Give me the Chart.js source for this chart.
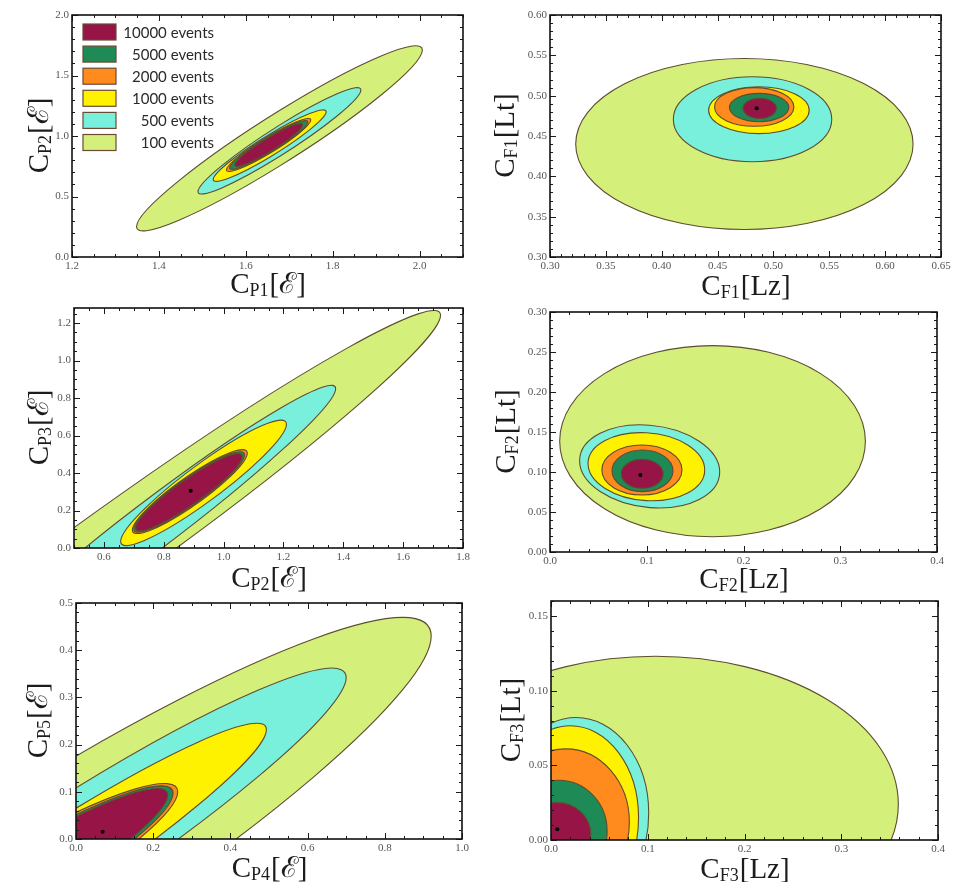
<!DOCTYPE html>
<html>
<head>
<meta charset="utf-8">
<script src="https://cdn.jsdelivr.net/npm/chart.js@4.4.1/dist/chart.umd.min.js"></script>
<style>
  html, body { margin: 0; padding: 0; background: #fff; }
  #wrap { position: relative; width: 958px; height: 882px; overflow: hidden; }
  #wrap canvas { position: absolute; }
</style>
</head>
<body>
<div id="wrap">
  <canvas id="c1" width="479" height="308" style="left:0;top:0"></canvas>
  <canvas id="c2" width="479" height="308" style="left:479px;top:0"></canvas>
  <canvas id="c3" width="479" height="300" style="left:0;top:298px"></canvas>
  <canvas id="c4" width="479" height="300" style="left:479px;top:298px"></canvas>
  <canvas id="c5" width="479" height="294" style="left:0;top:588px"></canvas>
  <canvas id="c6" width="479" height="294" style="left:479px;top:588px"></canvas>
</div>
<script>
// contour levels, drawn outer -> inner
const levelLabels = ['100 events', '500 events', '1000 events', '2000 events', '5000 events', '10000 events'];
const levelColors = ['#d4f07a', '#78f0dc', '#fff200', '#ff8a1e', '#1e8a55', '#961446'];

// one ring = [centre x, centre y, x to rightmost point, y to rightmost point, half height at centre]
const p1Rings = [
    [1.6775, 0.981, 0.329, 0.730, 0.23],
    [1.6775, 0.960, 0.1875, 0.420, 0.13],
    [1.655, 0.920, 0.130, 0.280, 0.095],
    [1.6527, 0.926, 0.097, 0.206, 0.075],
    [1.6527, 0.926, 0.090, 0.190, 0.068],
    [1.6527, 0.926, 0.078, 0.165, 0.062]
];
const p2Rings = [
    [0.474, 0.440, 0.151, 0, 0.106],
    [0.4813, 0.4708, 0.0709, 0, 0.0527],
    [0.487, 0.482, 0.045, 0, 0.029],
    [0.4828, 0.486, 0.0355, 0, 0.024],
    [0.4872, 0.4853, 0.0266, 0, 0.0176],
    [0.4877, 0.4843, 0.0149, 0, 0.0124]
];
const p3Rings = [
    [0.659, 0.040, 1.066, 1.201, 0.25],
    [0.7724, 0.133, 0.602, 0.717, 0.16],
    [0.933, 0.3475, 0.277, 0.3125, 0.12],
    [0.887, 0.301, 0.192, 0.205, 0.09],
    [0.885, 0.299, 0.185, 0.197, 0.085],
    [0.884, 0.297, 0.178, 0.190, 0.08]
];
const p4Rings = [
    [0.168, 0.1385, 0.158, 0, 0.1195],
    [0.103, 0.107, 0.0724, -0.007, 0.0515],
    [0.0996, 0.1066, 0.0603, -0.004, 0.0424],
    [0.095, 0.1025, 0.0414, 0, 0.0313],
    [0.0956, 0.1015, 0.0315, 0, 0.026],
    [0.0953, 0.0977, 0.0216, 0, 0.0181]
];
const p5Rings = [
    [-0.1158, -0.0873, 1.036, 0.517, 0.2066],
    [-0.077, -0.0606, 0.777, 0.4026, 0.1294],
    [-0.1028, -0.0814, 0.596, 0.313, 0.0938],
    [-0.1244, -0.0769, 0.388, 0.177, 0.0805],
    [-0.1244, -0.0769, 0.376, 0.174, 0.075],
    [-0.1244, -0.0769, 0.362, 0.170, 0.070]
];
const p6Rings = [
    [0.108, 0.024, 0.251, 0, 0.099],
    [0.026, 0.018, 0.075, 0, 0.064],
    [0.020, 0.015, 0.0705, 0, 0.0615],
    [0.015, 0.012, 0.066, 0, 0.049],
    [0.008, 0.006, 0.050, 0, 0.034],
    [0.006, 0.004, 0.035, 0, 0.021]
];

// best fit points
const p1Dot = [];
const p2Dot = [{ x: 0.485, y: 0.4843 }];
const p3Dot = [{ x: 0.890, y: 0.305 }];
const p4Dot = [{ x: 0.0934, y: 0.0963 }];
const p5Dot = [{ x: 0.069, y: 0.0155 }];
const p6Dot = [{ x: 0.0065, y: 0.0072 }];

// axis ranges
const p1XRange = [1.2, 2.1], p1YRange = [0, 2];
const p2XRange = [0.3, 0.65], p2YRange = [0.3, 0.6];
const p3XRange = [0.5, 1.8], p3YRange = [0, 1.28];
const p4XRange = [0, 0.4], p4YRange = [0, 0.3];
const p5XRange = [0, 1], p5YRange = [0, 0.5];
const p6XRange = [0, 0.4], p6YRange = [0, 0.16];

// tick labels
const p1XTicks = ['1.2', '1.4', '1.6', '1.8', '2.0'];
const p1YTicks = ['0.0', '0.5', '1.0', '1.5', '2.0'];
const p2XTicks = ['0.30', '0.35', '0.40', '0.45', '0.50', '0.55', '0.60', '0.65'];
const p2YTicks = ['0.30', '0.35', '0.40', '0.45', '0.50', '0.55', '0.60'];
const p3XTicks = ['0.6', '0.8', '1.0', '1.2', '1.4', '1.6', '1.8'];
const p3YTicks = ['0.0', '0.2', '0.4', '0.6', '0.8', '1.0', '1.2'];
const p4XTicks = ['0.0', '0.1', '0.2', '0.3', '0.4'];
const p4YTicks = ['0.00', '0.05', '0.10', '0.15', '0.20', '0.25', '0.30'];
const p5XTicks = ['0.0', '0.2', '0.4', '0.6', '0.8', '1.0'];
const p5YTicks = ['0.0', '0.1', '0.2', '0.3', '0.4', '0.5'];
const p6XTicks = ['0.0', '0.1', '0.2', '0.3', '0.4'];
const p6YTicks = ['0.00', '0.05', '0.10', '0.15'];

// axis titles: [letter, subscript, bracket]
const p1XTitle = ['C', 'P1', '[ℰ]'], p1YTitle = ['C', 'P2', '[ℰ]'];
const p2XTitle = ['C', 'F1', '[Lz]'], p2YTitle = ['C', 'F1', '[Lt]'];
const p3XTitle = ['C', 'P2', '[ℰ]'], p3YTitle = ['C', 'P3', '[ℰ]'];
const p4XTitle = ['C', 'F2', '[Lz]'], p4YTitle = ['C', 'F2', '[Lt]'];
const p5XTitle = ['C', 'P4', '[ℰ]'], p5YTitle = ['C', 'P5', '[ℰ]'];
const p6XTitle = ['C', 'F3', '[Lz]'], p6YTitle = ['C', 'F3', '[Lt]'];

const SERIF = '"Liberation Serif", "Times New Roman", "DejaVu Serif", serif';

// layout of each panel (px)
const panels = [
    { id: 'c1', rings: p1Rings, dot: p1Dot, xr: p1XRange, yr: p1YRange, xt: p1XTicks, yt: p1YTicks,
      xTitle: p1XTitle, yTitle: p1YTitle, minor: [0.05, 0.1], top: 15, right: 16, yw: 72, xh: 51, yOff: 24, xOff: 36, legend: true },
    { id: 'c2', rings: p2Rings, dot: p2Dot, xr: p2XRange, yr: p2YRange, xt: p2XTicks, yt: p2YTicks,
      xTitle: p2XTitle, yTitle: p2YTitle, minor: [0.01, 0.01], top: 15, right: 17, yw: 71, xh: 51, yOff: 36, xOff: 38 },
    { id: 'c3', rings: p3Rings, dot: p3Dot, xr: p3XRange, yr: p3YRange, xt: p3XTicks, yt: p3YTicks,
      xTitle: p3XTitle, yTitle: p3YTitle, minor: [0.05, 0.05], top: 10, right: 16, yw: 74, xh: 50, yOff: 26, xOff: 39 },
    { id: 'c4', rings: p4Rings, dot: p4Dot, xr: p4XRange, yr: p4YRange, xt: p4XTicks, yt: p4YTicks,
      xTitle: p4XTitle, yTitle: p4YTitle, minor: [0.02, 0.01], top: 14, right: 21, yw: 71, xh: 46, yOff: 35, xOff: 36 },
    { id: 'c5', rings: p5Rings, dot: p5Dot, xr: p5XRange, yr: p5YRange, xt: p5XTicks, yt: p5YTicks,
      xTitle: p5XTitle, yTitle: p5YTitle, minor: [0.05, 0.02], top: 15, right: 17, yw: 76, xh: 43, yOff: 29, xOff: 38 },
    { id: 'c6', rings: p6Rings, dot: p6Dot, xr: p6XRange, yr: p6YRange, xt: p6XTicks, yt: p6YTicks,
      xTitle: p6XTitle, yTitle: p6YTitle, minor: [0.02, 0.01], top: 13, right: 20, yw: 72, xh: 42, yOff: 31, xOff: 38 }
];

// filled contour rings, mapped through the chart scales
const contourPlugin = {
    id: 'contours',
    beforeDatasetsDraw(chart, args, opts) {
        const { ctx, chartArea: a, scales: { x, y } } = chart;
        ctx.save();
        ctx.beginPath();
        ctx.rect(a.left, a.top, a.right - a.left, a.bottom - a.top);
        ctx.clip();
        opts.rings.forEach((r, i) => {
            const [cx, cy, ux, uy, h] = r;
            const px = x.getPixelForValue(cx), py = y.getPixelForValue(cy);
            const ax = x.getPixelForValue(cx + ux) - px;
            const ay = y.getPixelForValue(cy + uy) - py;
            const by = y.getPixelForValue(cy + h) - py;
            ctx.save();
            ctx.beginPath();
            ctx.transform(ax, ay, 0, by, px, py);
            ctx.arc(0, 0, 1, 0, Math.PI * 2);
            ctx.restore();
            ctx.fillStyle = levelColors[i];
            ctx.fill();
            ctx.lineWidth = 1.1;
            ctx.strokeStyle = '#5e4c30';
            ctx.stroke();
        });
        ctx.restore();
    }
};

function drawTitle(ctx, parts, big, small) {
    ctx.font = big + 'px ' + SERIF;
    const w0 = ctx.measureText(parts[0]).width;
    const w2 = ctx.measureText(parts[2]).width;
    ctx.font = small + 'px ' + SERIF;
    const w1 = ctx.measureText(parts[1]).width;
    let x = -(w0 + w1 + w2) / 2;
    ctx.textBaseline = 'alphabetic';
    ctx.textAlign = 'left';
    ctx.font = big + 'px ' + SERIF;
    ctx.fillText(parts[0], x, 0);
    x += w0;
    ctx.font = small + 'px ' + SERIF;
    ctx.fillText(parts[1], x, 3);
    x += w1 + 1;
    ctx.font = big + 'px ' + SERIF;
    ctx.fillText(parts[2], x, 0);
}

// frame, inward ticks, axis titles, legend
const framePlugin = {
    id: 'frame',
    afterDatasetsDraw(chart, args, opts) {
        const { ctx, chartArea: a, scales: { x, y } } = chart;
        ctx.save();
        ctx.strokeStyle = '#1a1a1a';
        ctx.lineWidth = 1;
        ctx.beginPath();
        const tick = (v, axis, len) => {
            if (axis === 'x') {
                const p = Math.round(x.getPixelForValue(v)) + 0.5;
                ctx.moveTo(p, a.bottom); ctx.lineTo(p, a.bottom - len);
                ctx.moveTo(p, a.top); ctx.lineTo(p, a.top + len);
            } else {
                const p = Math.round(y.getPixelForValue(v)) + 0.5;
                ctx.moveTo(a.left, p); ctx.lineTo(a.left + len, p);
                ctx.moveTo(a.right, p); ctx.lineTo(a.right - len, p);
            }
        };
        [[x, 'x', opts.minor[0]], [y, 'y', opts.minor[1]]].forEach(([s, axis, step]) => {
            const majors = s.ticks.map(t => t.value);
            majors.forEach(v => tick(v, axis, 6));
            for (let k = Math.ceil(s.min / step - 1e-6); k * step <= s.max + 1e-9; k++) {
                const v = k * step;
                if (!majors.some(m => Math.abs(m - v) < step / 10)) tick(v, axis, 3);
            }
        });
        ctx.stroke();
        ctx.lineWidth = 1.6;
        ctx.strokeStyle = '#111';
        ctx.strokeRect(a.left, a.top, a.right - a.left, a.bottom - a.top);

        ctx.fillStyle = '#1c1c1c';
        ctx.save();
        ctx.translate((a.left + a.right) / 2, a.bottom + opts.xOff);
        drawTitle(ctx, opts.xTitle, 29, 18);
        ctx.restore();
        ctx.save();
        ctx.translate(a.left - opts.yOff, (a.top + a.bottom) / 2);
        ctx.rotate(-Math.PI / 2);
        drawTitle(ctx, opts.yTitle, 29, 18);
        ctx.restore();

        if (opts.legend) {
            const names = levelLabels.slice().reverse();
            const cols = levelColors.slice().reverse();
            ctx.font = '15px Lato, "Open Sans", sans-serif';
            ctx.textAlign = 'right';
            ctx.textBaseline = 'middle';
            names.forEach((n, i) => {
                const cy = a.top + 17 + i * 22.1;
                ctx.fillStyle = cols[i];
                ctx.fillRect(a.left + 11, cy - 8, 33, 16);
                ctx.lineWidth = 1.2;
                ctx.strokeStyle = '#6b4a33';
                ctx.strokeRect(a.left + 11, cy - 8, 33, 16);
                ctx.fillStyle = '#2a2a2a';
                ctx.fillText(n, a.left + 142, cy + 1);
            });
        }
        ctx.restore();
    }
};

panels.forEach(p => {
    const axis = (range, labels, size, isX) => ({
        type: 'linear',
        min: range[0],
        max: range[1],
        grid: { display: false, drawTicks: false },
        border: { display: false },
        afterBuildTicks: s => { s.ticks = labels.map(t => ({ value: Number(t) })); },
        afterFit: s => { if (isX) s.height = size; else s.width = size; },
        ticks: {
            autoSkip: false,
            maxRotation: 0,
            padding: 3,
            color: '#555',
            font: { family: SERIF, size: 11 },
            callback: (v, i) => labels[i]
        }
    });

    new Chart(document.getElementById(p.id), {
        type: 'scatter',
        data: {
            datasets: [{
                data: p.dot,
                pointRadius: 2,
                pointBackgroundColor: '#000',
                pointBorderWidth: 0
            }]
        },
        options: {
            responsive: false,
            animation: false,
            layout: { padding: { top: p.top, right: p.right, left: 0, bottom: 0 } },
            plugins: {
                legend: { display: false },
                tooltip: { enabled: false },
                contours: { rings: p.rings },
                frame: { minor: p.minor, xTitle: p.xTitle, yTitle: p.yTitle, xOff: p.xOff, yOff: p.yOff, legend: !!p.legend }
            },
            scales: {
                x: axis(p.xr, p.xt, p.xh, true),
                y: axis(p.yr, p.yt, p.yw, false)
            }
        },
        plugins: [contourPlugin, framePlugin]
    });
});
</script>
</body>
</html>
